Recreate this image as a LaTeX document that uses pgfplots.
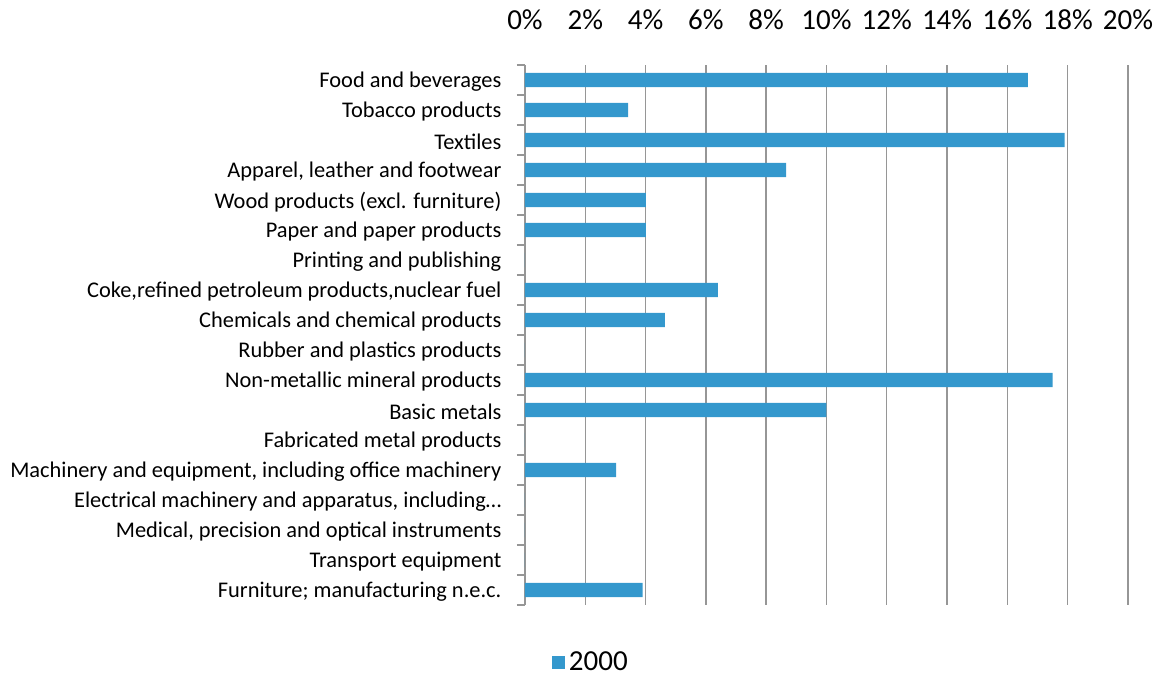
\documentclass[border=0pt]{standalone}
\usepackage{pgfplots}
\pgfplotsset{compat=1.18}
\usepackage{fontspec}
\setmainfont{Carlito}
\definecolor{barblue}{RGB}{52,152,205}
\definecolor{gridgray}{RGB}{150,150,150}
\begin{document}
\begin{tikzpicture}
\useasboundingbox (-262.5pt,-36pt) rectangle (318pt,302.5pt);
\begin{axis}[
  at={(0,0)}, anchor=south west,
  scale only axis,
  width=301.5pt, height=270pt,
  xbar, bar width=0.47,
  xmin=0, xmax=20,
  ymin=-0.5, ymax=17.5,
  y dir=reverse,
  axis y line*=left,
  axis x line*=top,
  x axis line style={draw=none},
  y axis line style={draw=gridgray, line width=0.8pt},
  xtick={0,2,...,20},
  xticklabel={\pgfmathprintnumber{\tick}\%},
  xticklabel pos=right,
  xmajorgrids,
  major x grid style={draw=gridgray, line width=0.7pt},
  xtick style={draw=none},
  ytick={0,...,17},
  ytick style={draw=none},
  minor ytick={-0.5,0.5,...,17.5},
  minor y tick style={draw=gridgray, line width=0.7pt},
  minor tick length=4pt,
  tick align=outside,
  yticklabels={{Food and beverages},{Tobacco products},{Textiles},{Apparel, leather and footwear},{Wood products (excl. furniture)},{Paper and paper products},{Printing and publishing},{Coke,refined petroleum products,nuclear fuel},{Chemicals and chemical products},{Rubber and plastics products},{Non-metallic mineral products},{Basic metals},{Fabricated metal products},{Machinery and equipment, including office machinery},{Electrical machinery and apparatus, including…},{Medical, precision and optical instruments},{Transport equipment},{Furniture; manufacturing n.e.c.}},
  yticklabel style={font=\fontsize{11.2}{13}\selectfont, xshift=-4pt, yshift=-1pt},
  xticklabel style={font=\fontsize{14.5}{16}\selectfont, yshift=10pt},
  /pgf/number format/assume math mode=true,
  legend style={at={(0.111,-0.106)}, anchor=center, draw=none, font=\fontsize{14.5}{16}\selectfont},
  legend image code/.code={\fill[barblue] (0pt,-3.2pt) rectangle (6.4pt,3.2pt);},
]
\addplot[fill=barblue, draw=none] coordinates {
(16.68,0) (3.42,1) (17.9,2) (8.66,3) (4.01,4) (4.01,5) (0,6) (6.4,7) (4.64,8) (0,9) (17.5,10) (10.0,11) (0,12) (3.02,13) (0,14) (0,15) (0,16) (3.9,17)
};
\legend{2000}
\end{axis}
\end{tikzpicture}
\end{document}
